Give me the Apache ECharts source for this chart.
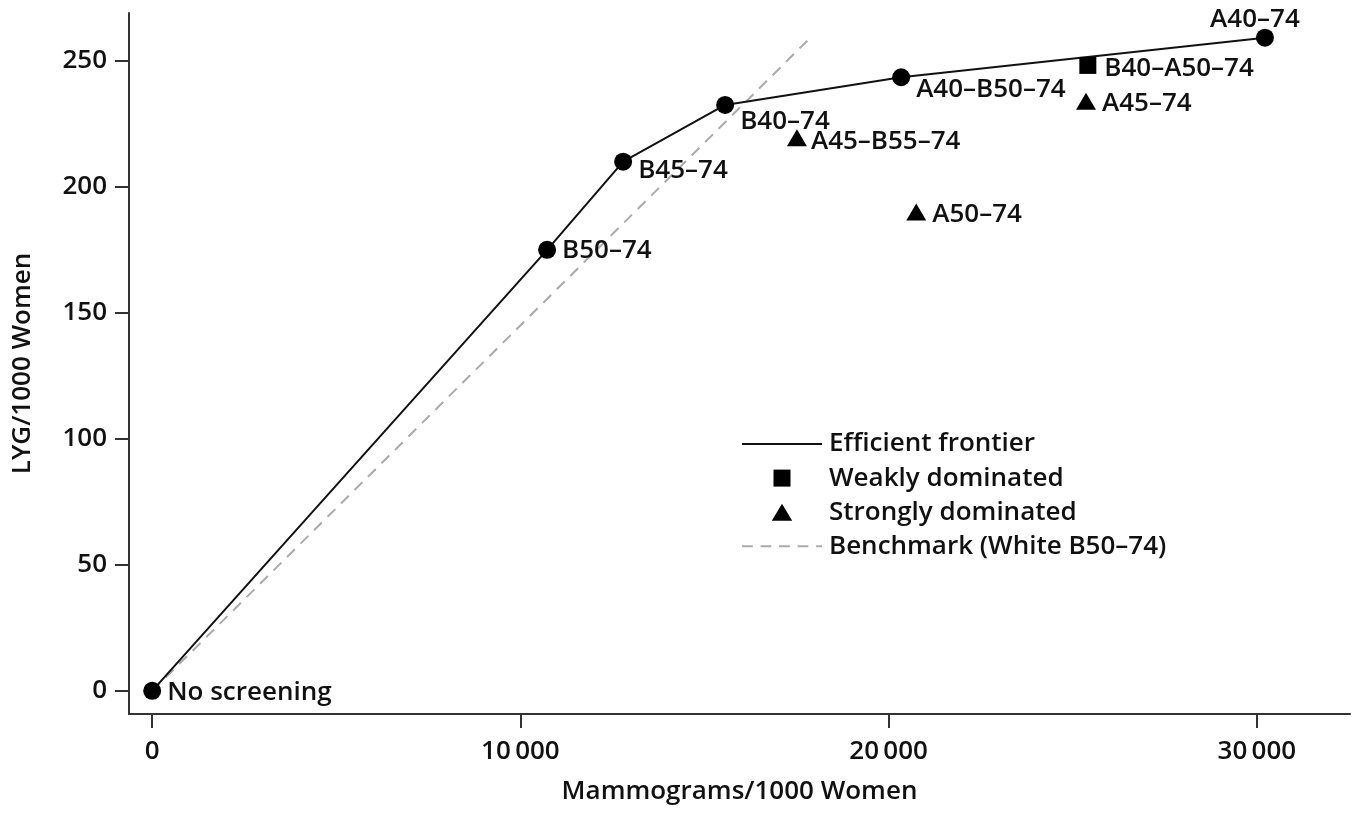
<!DOCTYPE html>
<html>
<head>
<meta charset="utf-8">
<script src="https://cdn.jsdelivr.net/npm/echarts@6/dist/echarts.min.js"></script>
<style>
html,body{margin:0;padding:0;background:#fff;}
#chart{width:1360px;height:813px;}
</style>
</head>
<body>
<div id="chart"></div>
<script>
// ---- data ----
const frontierNames = ['No screening', 'B50\u201374', 'B45\u201374', 'B40\u201374', 'A40\u2013B50\u201374', 'A40\u201374'];
const frontierX = [0, 10725, 12790, 15560, 20340, 30220];
const frontierY = [0, 175, 210, 232.5, 243.5, 259.2];

const weakNames = ['B40\u2013A50\u201374'];
const weakX = [25410];
const weakY = [248.2];

const strongNames = ['A45\u201374', 'A45\u2013B55\u201374', 'A50\u201374'];
const strongX = [25360, 17510, 20750];
const strongY = [234, 219.5, 190];

const benchX = [0, 17950];
const benchY = [0, 260.3];

const xTicks = [0, 10000, 20000, 30000];
const yTicks = [0, 50, 100, 150, 200, 250];

const legendNames = ['Efficient frontier', 'Weakly dominated', 'Strongly dominated', 'Benchmark (White B50\u201374)'];

// ---- label placement (style only) ----
const labelStyle = {
  'No screening': {position: 'right', distance: 6, offset: [0, 2]},
  'B50\u201374': {position: 'right', distance: 6, offset: [0, 1]},
  'B45\u201374': {position: 'right', distance: 6, offset: [0, 9]},
  'B40\u201374': {position: 'right', distance: 6, offset: [0, 17]},
  'A40\u2013B50\u201374': {position: 'right', distance: 6, offset: [0, 12]},
  'A40\u201374': {position: 'top', distance: 4, offset: [-10, 8]},
  'B40\u2013A50\u201374': {position: 'right', distance: 8, offset: [0, 3]},
  'A45\u201374': {position: 'right', distance: 6, offset: [0, 2]},
  'A45\u2013B55\u201374': {position: 'right', distance: 4, offset: [0, 4]},
  'A50\u201374': {position: 'right', distance: 6, offset: [0, 3]}
};

const FONT = '"Open Sans", sans-serif';
const txt = {fontFamily: FONT, fontWeight: 600, fontSize: 26, color: '#111'};

function pts(names, xs, ys) {
  return names.map((n, i) => ({
    name: n,
    value: [xs[i], ys[i]],
    label: Object.assign({show: true, formatter: n}, txt, labelStyle[n])
  }));
}

const fmtThousands = v => {
  if (v >= 1000) {
    const s = String(v);
    return s.slice(0, s.length - 3) + '\u2009' + s.slice(-3);
  }
  return String(v);
};

const lineIcon = 'path://M0 0H82V2H0Z';
const dashIcon = 'path://M0 0H11V2H0Z M19 0H30V2H19Z M38 0H49V2H38Z M57 0H68V2H57Z M76 0H82V2H76Z';
const squareIcon = 'path://M0 0H10V10H0Z';
const triIcon = 'path://M6 0L12 10H0Z';

const chart = echarts.init(document.getElementById('chart'), null, {renderer: 'canvas'});
chart.setOption({
  animation: false,
  backgroundColor: '#fff',
  grid: {left: 129, right: 10, top: 13, bottom: 99, containLabel: false},
  xAxis: {
    type: 'value',
    min: -630, max: 32530,
    name: 'Mammograms/1000 Women',
    nameLocation: 'middle',
    nameGap: 65,
    nameTextStyle: txt,
    splitLine: {show: false},
    axisLine: {show: true, onZero: false, lineStyle: {color: '#333', width: 2}},
    axisTick: {show: true, length: 14, customValues: xTicks, lineStyle: {color: '#333', width: 2}},
    axisLabel: Object.assign({customValues: xTicks, margin: 25, formatter: fmtThousands}, txt)
  },
  yAxis: {
    type: 'value',
    min: -9.2, max: 269,
    name: 'LYG/1000 Women',
    nameLocation: 'middle',
    nameGap: 93,
    nameRotate: 90,
    nameTextStyle: txt,
    splitLine: {show: false},
    axisLine: {show: true, onZero: false, lineStyle: {color: '#333', width: 2}},
    axisTick: {show: true, length: 14, customValues: yTicks, lineStyle: {color: '#333', width: 2}},
    axisLabel: Object.assign({customValues: yTicks, margin: 22}, txt)
  },
  legend: {
    orient: 'vertical',
    left: 737,
    top: 426,
    itemWidth: 80,
    itemHeight: 17,
    itemGap: 8.1,
    symbolKeepAspect: true,
    textStyle: Object.assign({}, txt, {lineHeight: 26, padding: [0, 0, 0, 2]}),
    data: [
      {name: legendNames[0], icon: lineIcon},
      {name: legendNames[1], icon: squareIcon},
      {name: legendNames[2], icon: triIcon},
      {name: legendNames[3], icon: dashIcon}
    ]
  },
  series: [
    {
      name: legendNames[0],
      type: 'line',
      data: frontierX.map((x, i) => [x, frontierY[i]]),
      symbol: 'none',
      lineStyle: {color: '#111', width: 2},
      itemStyle: {color: '#111', opacity: 1},
      z: 2
    },
    {
      name: 'frontierPoints',
      type: 'scatter',
      data: pts(frontierNames, frontierX, frontierY),
      symbol: 'circle',
      symbolSize: 18,
      itemStyle: {color: '#000', opacity: 1},
      z: 4
    },
    {
      name: legendNames[1],
      type: 'scatter',
      data: pts(weakNames, weakX, weakY),
      symbol: 'rect',
      symbolSize: 17,
      itemStyle: {color: '#000', opacity: 1},
      z: 4
    },
    {
      name: legendNames[2],
      type: 'scatter',
      data: pts(strongNames, strongX, strongY),
      symbol: 'triangle',
      symbolSize: [20, 17],
      itemStyle: {color: '#000', opacity: 1},
      z: 4
    },
    {
      name: legendNames[3],
      type: 'line',
      data: benchX.map((x, i) => [x, benchY[i]]),
      symbol: 'none',
      lineStyle: {color: '#aaa', width: 2, type: [11, 8]},
      itemStyle: {color: '#aaa', opacity: 1},
      z: 1
    }
  ]
});
</script>
</body>
</html>
